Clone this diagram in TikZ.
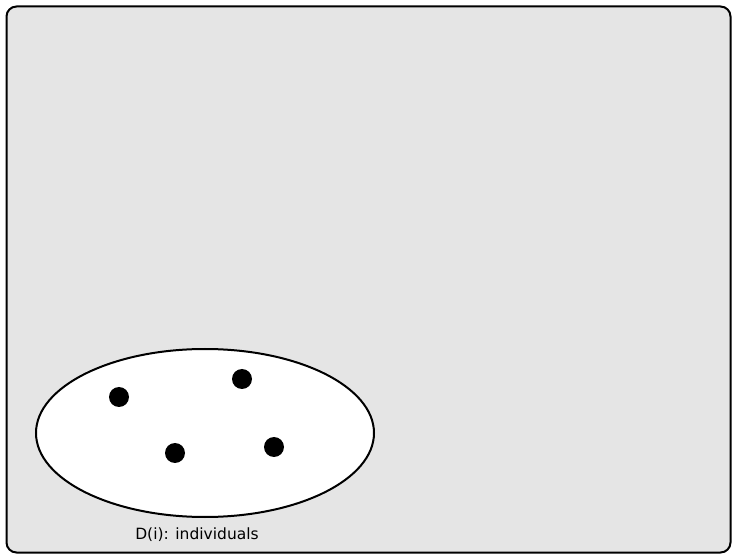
\documentclass[tikz,border=0pt]{standalone}
\usepackage{fontspec}
\setsansfont{DejaVu Sans}
\usepackage{tikz}
\usetikzlibrary{shapes.geometric}
\definecolor{panelgray}{RGB}{229,229,229}
\newcommand{\indiv}[3]{\node[indot] (#1) at (#2,#3) {};}

\begin{document}
\begin{tikzpicture}[x=1pt,y=-1pt,line width=2pt,
  indot/.style={circle,fill=black,inner sep=0pt,minimum size=20pt}]
\useasboundingbox (0,0) rectangle (732,556);
\draw[fill=panelgray,rounded corners=10pt] (6.5,6.5) rectangle (730.5,552.5);

\node[ellipse,draw,fill=white,minimum width=338pt,minimum height=168pt,inner sep=0pt] (domain) at (205,433) {};

\indiv{d1}{119}{397}
\indiv{d2}{242}{379}
\indiv{d3}{175}{453}
\indiv{d4}{274}{447}

\node[font=\sffamily\fontsize{15.5}{18}\selectfont,anchor=base] (dlabel) at (197,539) {D(i): individuals};
\end{tikzpicture}
\end{document}
